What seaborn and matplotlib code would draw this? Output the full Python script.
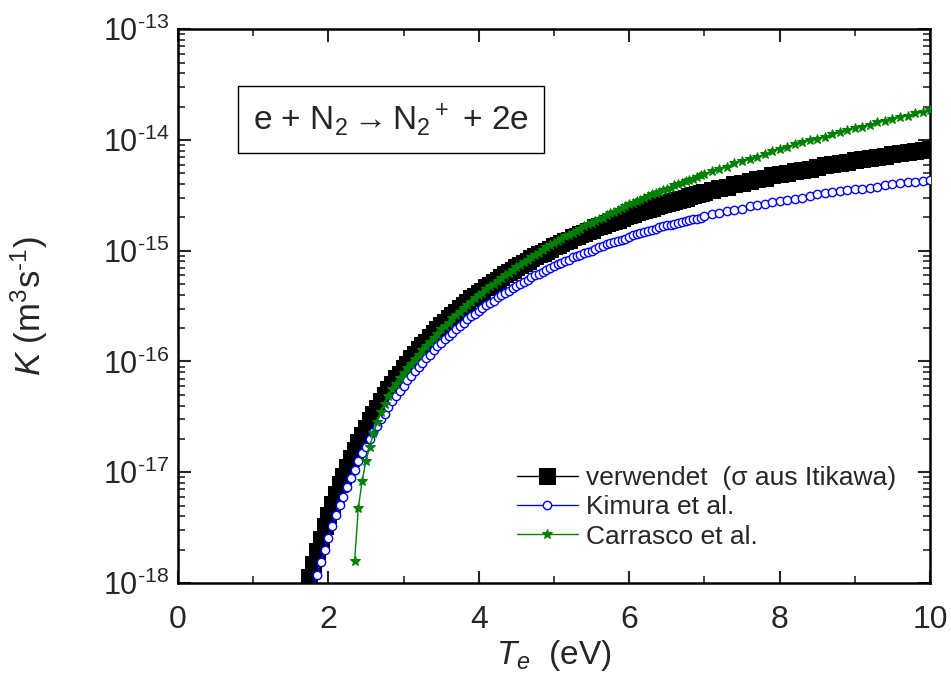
import numpy as np
import pandas as pd
import matplotlib
matplotlib.use("Agg")
import matplotlib.pyplot as plt
import seaborn as sns
from matplotlib.ticker import LogLocator, NullFormatter, FuncFormatter

# Te grid: 0.05 eV steps up to 7 eV, then 0.1 eV steps
te_black = np.r_[np.arange(170, 700, 5) / 100, np.arange(70, 101) / 10]
te_kimura = np.r_[np.arange(180, 700, 5) / 100, np.arange(70, 101) / 10]
te_carrasco = np.r_[np.arange(235, 700, 5) / 100, np.arange(70, 101) / 10]

# log10 K (m^3 s^-1)
logk_black = [
    -18.08, -17.95, -17.83, -17.71, -17.60, -17.49, -17.39, -17.29, -17.20, -17.11,
    -17.03, -16.95, -16.87, -16.80, -16.73, -16.66, -16.60, -16.53, -16.47, -16.42,
    -16.36, -16.30, -16.25, -16.20, -16.15, -16.11, -16.06, -16.02, -15.97, -15.93,
    -15.89, -15.85, -15.82, -15.78, -15.74, -15.71, -15.67, -15.64, -15.61, -15.58,
    -15.55, -15.52, -15.49, -15.46, -15.43, -15.41, -15.38, -15.36, -15.33, -15.31,
    -15.28, -15.26, -15.24, -15.21, -15.19, -15.17, -15.15, -15.13, -15.11, -15.09,
    -15.07, -15.05, -15.03, -15.02, -15.00, -14.98, -14.96, -14.95, -14.93, -14.91,
    -14.90, -14.88, -14.87, -14.85, -14.84, -14.82, -14.81, -14.79, -14.78, -14.77,
    -14.75, -14.74, -14.73, -14.72, -14.70, -14.69, -14.68, -14.67, -14.65, -14.64,
    -14.63, -14.62, -14.61, -14.60, -14.59, -14.58, -14.57, -14.56, -14.55, -14.54,
    -14.53, -14.52, -14.51, -14.50, -14.49, -14.48,
    -14.47, -14.45, -14.43, -14.42, -14.40, -14.39, -14.37, -14.35, -14.34, -14.32,
    -14.31, -14.30, -14.28, -14.27, -14.26, -14.24, -14.23, -14.22, -14.21, -14.20,
    -14.18, -14.17, -14.16, -14.15, -14.14, -14.13, -14.12, -14.11, -14.10, -14.09,
    -14.08,
]
logk_kimura = [
    -18.05, -17.93, -17.81, -17.70, -17.59, -17.49, -17.39, -17.30, -17.22, -17.13,
    -17.05, -16.98, -16.90, -16.83, -16.77, -16.70, -16.64, -16.58, -16.52, -16.47,
    -16.41, -16.36, -16.31, -16.27, -16.22, -16.17, -16.13, -16.09, -16.05, -16.01,
    -15.97, -15.94, -15.90, -15.86, -15.83, -15.80, -15.77, -15.74, -15.71, -15.68,
    -15.65, -15.62, -15.59, -15.57, -15.54, -15.52, -15.49, -15.47, -15.45, -15.42,
    -15.40, -15.38, -15.36, -15.34, -15.32, -15.30, -15.28, -15.26, -15.24, -15.22,
    -15.21, -15.19, -15.17, -15.16, -15.14, -15.12, -15.11, -15.09, -15.08, -15.06,
    -15.05, -15.04, -15.02, -15.01, -15.00, -14.98, -14.97, -14.96, -14.94, -14.93,
    -14.92, -14.91, -14.90, -14.89, -14.88, -14.86, -14.85, -14.84, -14.83, -14.82,
    -14.81, -14.80, -14.79, -14.78, -14.77, -14.77, -14.76, -14.75, -14.74, -14.73,
    -14.72, -14.71, -14.71, -14.70,
    -14.69, -14.67, -14.66, -14.64, -14.63, -14.62, -14.60, -14.59, -14.58, -14.56,
    -14.55, -14.54, -14.53, -14.52, -14.51, -14.49, -14.48, -14.47, -14.46, -14.45,
    -14.44, -14.44, -14.43, -14.42, -14.41, -14.40, -14.39, -14.38, -14.38, -14.37,
    -14.36,
]
logk_carrasco = [
    -17.80, -17.32, -17.08, -16.90, -16.77, -16.65, -16.55, -16.46, -16.38, -16.31,
    -16.25, -16.20, -16.15, -16.10, -16.06, -16.02, -15.98, -15.94, -15.90, -15.86,
    -15.82, -15.79, -15.75, -15.71, -15.68, -15.65, -15.61, -15.58, -15.55, -15.52,
    -15.49, -15.46, -15.43, -15.40, -15.38, -15.35, -15.32, -15.30, -15.27, -15.25,
    -15.22, -15.20, -15.17, -15.15, -15.13, -15.10, -15.08, -15.06, -15.04, -15.02,
    -14.99, -14.97, -14.95, -14.93, -14.91, -14.89, -14.87, -14.86, -14.84, -14.82,
    -14.80, -14.78, -14.76, -14.75, -14.73, -14.71, -14.70, -14.68, -14.66, -14.65,
    -14.63, -14.61, -14.60, -14.58, -14.57, -14.55, -14.54, -14.52, -14.51, -14.49,
    -14.48, -14.47, -14.45, -14.44, -14.43, -14.41, -14.40, -14.39, -14.37, -14.36,
    -14.35, -14.33, -14.32,
    -14.31, -14.28, -14.26, -14.24, -14.21, -14.19, -14.17, -14.15, -14.13, -14.10,
    -14.08, -14.06, -14.04, -14.02, -14.00, -13.99, -13.97, -13.95, -13.93, -13.91,
    -13.89, -13.88, -13.86, -13.84, -13.83, -13.81, -13.79, -13.78, -13.76, -13.75,
    -13.73,
]

labels = ["verwendet  (\u03c3 aus Itikawa)", "Kimura et al.", "Carrasco et al."]
x_ticks = [0, 2, 4, 6, 8, 10]
y_ticks = [1e-18, 1e-17, 1e-16, 1e-15, 1e-14, 1e-13]

sns.set_style("ticks")
plt.rcParams["font.family"] = ["Liberation Sans", "DejaVu Sans"]
plt.rcParams["mathtext.fontset"] = "custom"
plt.rcParams["mathtext.rm"] = "Liberation Sans"
plt.rcParams["mathtext.it"] = "Liberation Sans:italic"
plt.rcParams["mathtext.bf"] = "Liberation Sans:bold"

fig = plt.figure(figsize=(9.51, 6.81), dpi=100)
ax = fig.add_axes([0.187, 0.144, 0.791, 0.813])

df_b = pd.DataFrame({"Te": te_black, "K": 10 ** np.array(logk_black)})
df_k = pd.DataFrame({"Te": te_kimura, "K": 10 ** np.array(logk_kimura)})
df_c = pd.DataFrame({"Te": te_carrasco, "K": 10 ** np.array(logk_carrasco)})

sns.lineplot(data=df_b, x="Te", y="K", ax=ax, estimator=None, color="black",
             marker="s", markersize=11, markeredgecolor="black", lw=1,
             label=labels[0], zorder=2)
sns.lineplot(data=df_k, x="Te", y="K", ax=ax, estimator=None, color="#0000ff",
             marker="o", markersize=6, markerfacecolor="white",
             markeredgecolor="#0000ff", markeredgewidth=1, lw=1,
             label=labels[1], zorder=3)
sns.lineplot(data=df_c, x="Te", y="K", ax=ax, estimator=None, color="#008000",
             marker="*", markersize=7.5, markeredgecolor="#008000", lw=1,
             label=labels[2], zorder=4)

ax.set_yscale("log")
ax.set_xlim(0, 10)
ax.set_ylim(1e-18, 1e-13)
ax.set_xticks(x_ticks)
ax.set_xticks([1, 3, 5, 7, 9], minor=True)
ax.set_yticks(y_ticks)
ax.yaxis.set_minor_locator(LogLocator(base=10, subs=np.arange(2, 10), numticks=20))
ax.yaxis.set_minor_formatter(NullFormatter())
ax.yaxis.set_major_formatter(FuncFormatter(
    lambda v, p: r"$10^{\text{-%d}}$" % round(-np.log10(v))))

ax.tick_params(which="both", direction="in", top=True, right=True)
ax.tick_params(which="major", length=9, width=1.5)
ax.tick_params(which="minor", length=5, width=1.2)
ax.tick_params(axis="y", labelsize=22, pad=6)
ax.tick_params(axis="x", labelsize=23, pad=16)
for s in ax.spines.values():
    s.set_linewidth(1.8)
    s.set_color("black")

ax.set_xlabel(r"$T_e$  (eV)", fontsize=24)
ax.xaxis.set_label_coords(0.5, -0.1)
ax.set_ylabel(r"$K$ (m$^3$s$^{\text{-1}}$)", fontsize=25)
ax.yaxis.set_label_coords(-0.17, 0.5)

ax.text(0.284, 0.8375, r"e + N$_2$$\rightarrow$N$_2$$^+$ + 2e", transform=ax.transAxes,
        ha="center", va="center", fontsize=24,
        bbox=dict(boxstyle="square,pad=0.45", fc="white", ec="black", lw=1))

leg = ax.legend(loc="lower right", frameon=False, fontsize=19, handlelength=2.3,
                handletextpad=0.3, labelspacing=0.2, borderaxespad=0.9)

fig.savefig("out.png", dpi=100)
